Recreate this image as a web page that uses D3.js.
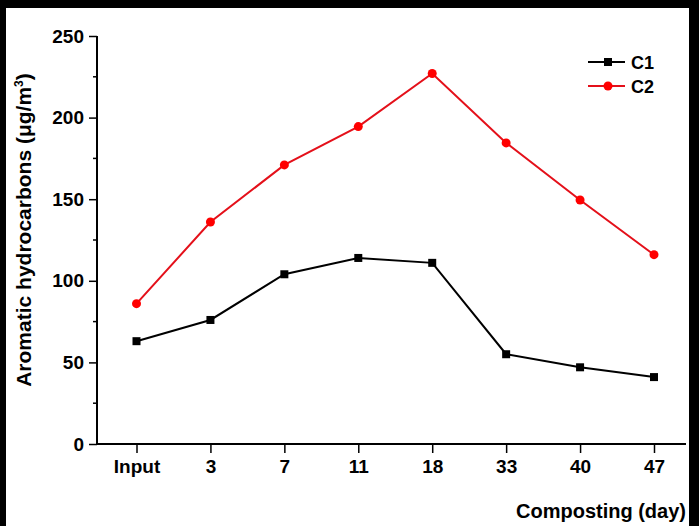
<!DOCTYPE html>
<html>
<head>
<meta charset="utf-8">
<script src="https://cdn.jsdelivr.net/npm/d3@7"></script>
<style>
  body { margin: 0; background: #000; }
  svg { display: block; }
</style>
</head>
<body>
<div id="chart"></div>
<script>
(function () {

  // Data
  const days = ["Input", "3", "7", "11", "18", "33", "40", "47"];
  const c1 = [63, 76, 104, 114, 111, 55, 47, 41];
  const c2 = [86, 136, 171, 194.5, 227, 184.5, 149.5, 116];
  const yTicks = [0, 50, 100, 150, 200, 250];
  const yMinor = [25, 75, 125, 175, 225];

  const W = 699, H = 526;
  const left = 97, right = 686, top = 36, bottom = 444;
  const font = "'Liberation Sans', Arial, sans-serif";

  const svg = d3.select("#chart")
    .append("svg")
    .attr("width", W)
    .attr("height", H)
    .style("font-family", font)
    .style("font-weight", "bold");

  // black frame with white canvas
  svg.append("rect").attr("width", W).attr("height", H).attr("fill", "#000");
  svg.append("rect")
    .attr("x", 6).attr("y", 8)
    .attr("width", 683).attr("height", H - 8)
    .attr("fill", "#fff");

  const x = d3.scalePoint()
    .domain(days)
    .range([136.5, 654]);

  const y = d3.scaleLinear()
    .domain([0, 250])
    .range([bottom, top]);

  // x axis
  const xAxis = svg.append("g")
    .attr("transform", `translate(0,${bottom})`)
    .call(d3.axisBottom(x).tickSize(9).tickPadding(7));
  xAxis.select(".domain").remove();
  xAxis.selectAll("line").attr("stroke", "#000").attr("stroke-width", 1.5);
  xAxis.selectAll("text")
    .attr("fill", "#000")
    .style("font-size", "19px")
    .style("font-family", font);
  svg.append("line")
    .attr("x1", left - 1).attr("x2", right)
    .attr("y1", bottom).attr("y2", bottom)
    .attr("stroke", "#000").attr("stroke-width", 2);

  // y axis
  const yAxis = svg.append("g")
    .attr("transform", `translate(${left},0)`)
    .call(d3.axisLeft(y).tickValues(yTicks).tickSize(8).tickPadding(5));
  yAxis.select(".domain").remove();
  yAxis.selectAll("line").attr("stroke", "#000").attr("stroke-width", 1.5);
  yAxis.selectAll("text")
    .attr("fill", "#000")
    .style("font-size", "19px")
    .style("font-family", font);
  svg.append("g")
    .selectAll("line")
    .data(yMinor)
    .join("line")
    .attr("x1", left - 4).attr("x2", left)
    .attr("y1", d => y(d)).attr("y2", d => y(d))
    .attr("stroke", "#000").attr("stroke-width", 1.5);
  svg.append("line")
    .attr("x1", left).attr("x2", left)
    .attr("y1", top).attr("y2", bottom + 1)
    .attr("stroke", "#000").attr("stroke-width", 2);

  // lines + markers
  const line = d3.line()
    .x((d, i) => x(days[i]))
    .y(d => y(d));

  svg.append("path")
    .datum(c1)
    .attr("d", line)
    .attr("fill", "none")
    .attr("stroke", "#000")
    .attr("stroke-width", 2);

  svg.append("path")
    .datum(c2)
    .attr("d", line)
    .attr("fill", "none")
    .attr("stroke", "#e4101a")
    .attr("stroke-width", 2);

  svg.append("g")
    .selectAll("rect")
    .data(c1)
    .join("rect")
    .attr("x", (d, i) => x(days[i]) - 4)
    .attr("y", d => y(d) - 4)
    .attr("width", 8)
    .attr("height", 8)
    .attr("fill", "#000");

  svg.append("g")
    .selectAll("circle")
    .data(c2)
    .join("circle")
    .attr("cx", (d, i) => x(days[i]))
    .attr("cy", d => y(d))
    .attr("r", 4.5)
    .attr("fill", "#ff0000");

  // legend
  const legend = svg.append("g");
  legend.append("line")
    .attr("x1", 588).attr("x2", 625).attr("y1", 62).attr("y2", 62)
    .attr("stroke", "#000").attr("stroke-width", 2);
  legend.append("rect")
    .attr("x", 604).attr("y", 58).attr("width", 8).attr("height", 8)
    .attr("fill", "#000");
  legend.append("text")
    .attr("x", 631).attr("y", 68.5)
    .style("font-size", "18px")
    .text("C1");
  legend.append("line")
    .attr("x1", 588).attr("x2", 625).attr("y1", 86).attr("y2", 86)
    .attr("stroke", "#e4101a").attr("stroke-width", 2);
  legend.append("circle")
    .attr("cx", 608).attr("cy", 86).attr("r", 4.5)
    .attr("fill", "#ff0000");
  legend.append("text")
    .attr("x", 631).attr("y", 92.5)
    .style("font-size", "18px")
    .text("C2");

  // axis titles
  svg.append("text")
    .attr("x", 686)
    .attr("y", 518)
    .attr("text-anchor", "end")
    .style("font-size", "20px")
    .text("Composting (day)");

  const yt = svg.append("text")
    .attr("transform", "translate(31,230) rotate(-90)")
    .attr("text-anchor", "middle")
    .style("font-size", "21px");
  yt.append("tspan").text("Aromatic hydrocarbons (μg/m");
  yt.append("tspan").attr("dy", -8).style("font-size", "12px").text("3");
  yt.append("tspan").attr("dy", 8).text(")");

})();
</script>
</body>
</html>
